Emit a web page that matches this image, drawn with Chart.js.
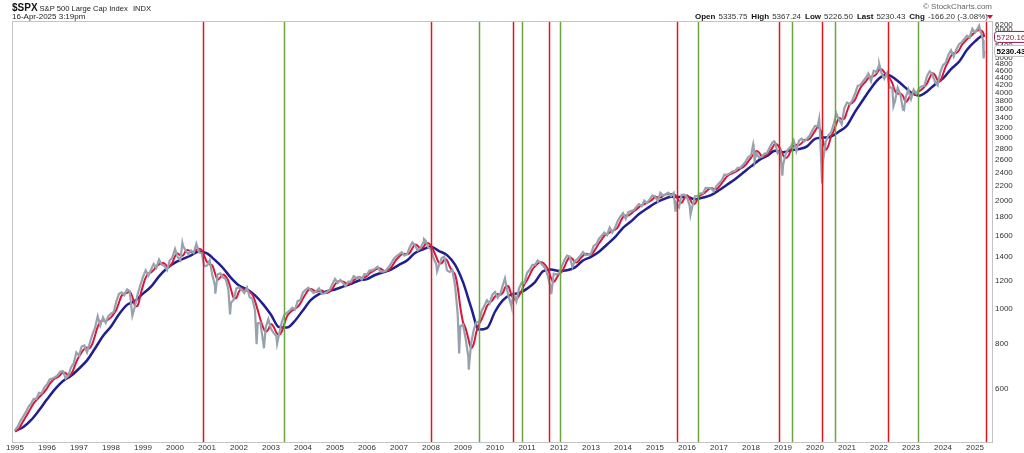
<!DOCTYPE html>
<html>
<head>
<meta charset="utf-8">
<script src="https://cdn.jsdelivr.net/npm/chart.js@4/dist/chart.umd.min.js"></script>
<style>
  html, body { margin: 0; padding: 0; background: #fff; }
  #wrap { width: 1024px; height: 453px; position: relative; }
</style>
</head>
<body>
<div id="wrap"><canvas id="chart" width="1024" height="453"></canvas></div>
<script>
// monthly closes, first value = start of Jan 1995, then each month end
const startYear = 1995;
const priceClose = [
  459,
  470, 487, 501, 515, 533, 545, 562, 562, 584, 582, 605, 616,
  636, 640, 645, 654, 669, 671, 640, 652, 687, 705, 757, 741,
  786, 791, 757, 801, 848, 885, 954, 899, 947, 915, 955, 970,
  980, 1049, 1102, 1112, 1091, 1134, 1121, 957, 1017, 1099, 1164, 1229,
  1280, 1238, 1286, 1335, 1302, 1373, 1329, 1320, 1283, 1363, 1389, 1469,
  1394, 1366, 1499, 1452, 1421, 1455, 1431, 1518, 1437, 1429, 1315, 1320,
  1366, 1240, 1160, 1249, 1256, 1224, 1211, 1134, 1041, 1060, 1139, 1148,
  1130, 1107, 1147, 1077, 1067, 990, 912, 916, 815, 886, 936, 880,
  856, 841, 848, 917, 964, 975, 990, 1008, 996, 1051, 1058, 1112,
  1131, 1145, 1126, 1107, 1121, 1141, 1102, 1104, 1115, 1130, 1174, 1212,
  1181, 1204, 1181, 1157, 1191, 1191, 1234, 1220, 1229, 1207, 1249, 1248,
  1280, 1281, 1295, 1311, 1270, 1270, 1277, 1304, 1336, 1378, 1401, 1418,
  1438, 1407, 1421, 1482, 1531, 1503, 1455, 1474, 1527, 1549, 1481, 1468,
  1379, 1331, 1323, 1386, 1400, 1280, 1267, 1283, 1165, 969, 896, 903,
  826, 735, 798, 873, 919, 919, 987, 1021, 1057, 1036, 1096, 1115,
  1074, 1104, 1169, 1187, 1089, 1031, 1102, 1049, 1141, 1183, 1181, 1258,
  1286, 1327, 1326, 1364, 1345, 1321, 1292, 1219, 1131, 1253, 1247, 1258,
  1312, 1366, 1408, 1398, 1310, 1362, 1379, 1407, 1441, 1412, 1416, 1426,
  1498, 1515, 1569, 1598, 1631, 1606, 1686, 1633, 1682, 1757, 1806, 1848,
  1783, 1859, 1872, 1884, 1924, 1960, 1931, 2003, 1972, 2018, 2068, 2059,
  1995, 2105, 2068, 2086, 2107, 2063, 2104, 1972, 1920, 2079, 2080, 2044,
  1940, 1932, 2060, 2065, 2097, 2099, 2174, 2171, 2168, 2126, 2199, 2239,
  2279, 2364, 2363, 2384, 2412, 2423, 2470, 2472, 2519, 2575, 2648, 2674,
  2824, 2714, 2641, 2648, 2705, 2718, 2816, 2902, 2914, 2712, 2760, 2507,
  2704, 2784, 2834, 2946, 2752, 2942, 2980, 2926, 2977, 3038, 3141, 3231,
  3226, 2954, 2585, 2912, 3044, 3100, 3271, 3500, 3363, 3270, 3622, 3756,
  3714, 3811, 3973, 4181, 4204, 4298, 4395, 4523, 4308, 4605, 4567, 4766,
  4516, 4374, 4530, 4132, 4132, 3785, 4130, 3955, 3586, 3872, 4080, 3840,
  4077, 3970, 4109, 4169, 4180, 4450, 4589, 4508, 4288, 4194, 4568, 4770,
  4846, 5096, 5254, 5036, 5278, 5460, 5522, 5648, 5762, 5705, 6032, 5882,
  6041, 5955, 5612
];

// 50 day average (red), same months as priceClose
const ma50 = [
  456,
  460, 471, 486, 500, 515, 531, 546, 557, 567, 577, 588, 601,
  618, 631, 640, 646, 655, 665, 663, 652, 657, 681, 712, 737,
  757, 774, 781, 778, 799, 843, 891, 920, 928, 925, 935, 947,
  968, 994, 1042, 1089, 1104, 1108, 1117, 1083, 1021, 1020, 1091, 1161,
  1222, 1254, 1263, 1284, 1312, 1330, 1341, 1340, 1314, 1314, 1345, 1401,
  1426, 1410, 1408, 1448, 1458, 1439, 1439, 1460, 1471, 1459, 1403, 1351,
  1330, 1321, 1258, 1206, 1224, 1246, 1231, 1196, 1133, 1073, 1074, 1118,
  1141, 1130, 1124, 1117, 1096, 1051, 994, 936, 890, 863, 877, 907,
  891, 859, 847, 863, 908, 953, 976, 990, 1000, 1013, 1036, 1069,
  1100, 1129, 1136, 1127, 1116, 1121, 1125, 1114, 1107, 1116, 1137, 1170,
  1192, 1196, 1191, 1181, 1173, 1181, 1202, 1217, 1226, 1221, 1224, 1236,
  1257, 1270, 1284, 1295, 1296, 1282, 1272, 1282, 1304, 1337, 1371, 1398,
  1418, 1424, 1419, 1432, 1476, 1510, 1499, 1474, 1482, 1516, 1525, 1498,
  1450, 1394, 1344, 1341, 1371, 1366, 1313, 1275, 1248, 1151, 1010, 920,
  882, 827, 778, 798, 862, 905, 936, 975, 1019, 1041, 1057, 1083,
  1100, 1094, 1111, 1154, 1157, 1104, 1066, 1067, 1088, 1124, 1169, 1201,
  1242, 1288, 1315, 1336, 1348, 1344, 1321, 1282, 1219, 1188, 1215, 1252,
  1268, 1309, 1361, 1393, 1379, 1349, 1351, 1381, 1407, 1423, 1421, 1417,
  1441, 1481, 1523, 1560, 1598, 1615, 1634, 1649, 1661, 1686, 1747, 1802,
  1820, 1821, 1840, 1871, 1891, 1921, 1942, 1958, 1973, 1992, 2017, 2051,
  2046, 2042, 2063, 2084, 2086, 2090, 2086, 2059, 1998, 1976, 2032, 2071,
  2029, 1969, 1966, 2023, 2071, 2089, 2117, 2151, 2171, 2159, 2157, 2188,
  2238, 2289, 2339, 2368, 2385, 2406, 2431, 2457, 2483, 2520, 2577, 2633,
  2703, 2751, 2728, 2664, 2660, 2691, 2739, 2808, 2880, 2860, 2784, 2683,
  2632, 2665, 2773, 2847, 2864, 2858, 2895, 2955, 2955, 2977, 3045, 3132,
  3203, 3160, 2943, 2777, 2847, 3019, 3126, 3277, 3397, 3381, 3386, 3550,
  3706, 3751, 3822, 3976, 4124, 4221, 4294, 4398, 4431, 4447, 4506, 4628,
  4644, 4556, 4456, 4384, 4251, 4045, 3976, 3983, 3916, 3768, 3838, 3958,
  3971, 3980, 4037, 4082, 4154, 4244, 4404, 4527, 4478, 4331, 4315, 4506,
  4728, 4886, 5061, 5152, 5162, 5251, 5421, 5535, 5639, 5713, 5804, 5896,
  5967, 5972, 5895
];

// 200 day average (blue), one value per quarter end
const ma200 = [
  457,
  468, 490, 522, 560,
  598, 630, 651, 682,
  719, 776, 841, 893,
  966, 1026, 1053, 1103,
  1153, 1232, 1298, 1345,
  1379, 1409, 1444, 1428,
  1367, 1300, 1220, 1162,
  1134, 1091, 1031, 963,
  890, 887, 927, 992,
  1059, 1099, 1120, 1133,
  1154, 1174, 1200, 1211,
  1243, 1264, 1287, 1326,
  1365, 1432, 1466, 1489,
  1449, 1412, 1328, 1187,
  1012, 876, 884, 982,
  1058, 1096, 1106, 1139,
  1188, 1273, 1287, 1276,
  1281, 1305, 1364, 1396,
  1443, 1511, 1584, 1682,
  1753, 1838, 1904, 1969,
  2018, 2054, 2048, 2052,
  2019, 2042, 2075, 2140,
  2218, 2296, 2393, 2494,
  2596, 2667, 2756, 2732,
  2765, 2786, 2835, 2977,
  3000, 3021, 3119, 3242,
  3538, 3819, 4116, 4382,
  4488, 4372, 4191, 4004,
  3925, 4033, 4218, 4383,
  4656, 4879, 5267, 5558,
  5762
];

// intra-month extremes the monthly closes miss
const spikeDates = [2000.23, 2001.26, 2001.72, 2002.55, 2002.78, 2003.19, 2007.78, 2008.19, 2008.88, 2009.18,
  2010.31, 2010.51, 2011.76, 2015.64, 2016.11, 2018.07, 2018.11, 2018.72, 2018.98, 2020.13, 2020.22,
  2022.01, 2022.45, 2022.78, 2025.13, 2025.27];
const spikeValues = [1527, 1103, 966, 797, 777, 800, 1565, 1273, 752, 677,
  1217, 1022, 1099, 1867, 1829, 2873, 2581, 2931, 2351, 3386, 2237,
  4797, 3667, 3577, 6144, 4982];

// last print, 16-Apr-2025
const lastDate = 2025.288;
const lastPrice = 5230.43;
const lastMa50 = 5720.16;
const lastMa200 = 5745;

// crossover markers
const redSignals = [2000.87, 2008.0, 2010.56, 2011.68, 2015.69, 2018.87, 2020.22, 2022.27, 2025.34];
const greenSignals = [2003.41, 2009.5, 2010.84, 2012.03, 2016.33, 2019.28, 2020.62, 2023.22];

const yearLabels = [1995, 1996, 1997, 1998, 1999, 2000, 2001, 2002, 2003, 2004, 2005, 2006, 2007, 2008, 2009, 2010,
  2011, 2012, 2013, 2014, 2015, 2016, 2017, 2018, 2019, 2020, 2021, 2022, 2023, 2024, 2025];
const priceTicks = [600, 800, 1000, 1200, 1400, 1600, 1800, 2000, 2200, 2400, 2600, 2800, 3000, 3200, 3400,
  3600, 3800, 4000, 4200, 4400, 4600, 4800, 5000, 5400, 6000, 6200];

const quote = [['Open', '5335.75'], ['High', '5367.24'], ['Low', '5226.50'], ['Last', '5230.43'], ['Chg', '-166.20 (-3.08%)']];

// build datasets
const grayPts = priceClose.map((v, i) => ({ x: startYear + i / 12, y: v }));
spikeDates.forEach((d, i) => grayPts.push({ x: d, y: spikeValues[i] }));
grayPts.push({ x: lastDate, y: lastPrice });
grayPts.sort((a, b) => a.x - b.x);

const redPts = ma50.map((v, i) => ({ x: startYear + i / 12, y: v }));
redPts.push({ x: lastDate, y: lastMa50 });

const bluePts = ma200.map((v, i) => ({ x: startYear + i / 4, y: v }));
bluePts.push({ x: lastDate, y: lastMa200 });

const FONT = 'Liberation Sans, Arial, sans-serif';

const signalLines = {
  id: 'signalLines',
  afterDatasetsDraw(chart) {
    const { ctx, chartArea, scales } = chart;
    ctx.save();
    ctx.lineWidth = 1.5;
    const draw = (list, color) => {
      ctx.strokeStyle = color;
      list.forEach(d => {
        const x = Math.round(scales.x.getPixelForValue(d)) + 0.5;
        ctx.beginPath();
        ctx.moveTo(x, chartArea.top);
        ctx.lineTo(x, chartArea.bottom);
        ctx.stroke();
      });
    };
    draw(redSignals, '#e8141b');
    draw(greenSignals, '#6aa63c');
    ctx.restore();
  }
};

const frameAndText = {
  id: 'frameAndText',
  afterDraw(chart) {
    const { ctx, chartArea, scales } = chart;
    ctx.save();
    // plot frame
    ctx.strokeStyle = '#c4c4c4';
    ctx.lineWidth = 1;
    ctx.strokeRect(chartArea.left + 0.5, chartArea.top + 0.5, chartArea.right - chartArea.left, chartArea.bottom - chartArea.top);

    // title
    ctx.textBaseline = 'alphabetic';
    ctx.fillStyle = '#111';
    ctx.font = 'bold 10px ' + FONT;
    ctx.fillText('$SPX', 12, 11);
    ctx.font = '7.6px ' + FONT;
    ctx.fillStyle = '#222';
    ctx.fillText('S&P 500 Large Cap Index', 39.5, 11);
    ctx.fillText('INDX', 133, 11);
    ctx.font = '8px ' + FONT;
    ctx.fillText('16-Apr-2025 3:19pm', 12, 19);

    ctx.fillStyle = '#666';
    ctx.textAlign = 'right';
    ctx.fillText('\u00A9 StockCharts.com', 992, 9);
    ctx.textAlign = 'left';

    // quote line
    let x = 695;
    quote.forEach(([k, v]) => {
      ctx.font = 'bold 8px ' + FONT;
      ctx.fillStyle = '#111';
      ctx.fillText(k, x, 19);
      x += ctx.measureText(k).width + 3;
      ctx.font = '8px ' + FONT;
      ctx.fillStyle = '#333';
      ctx.fillText(v, x, 19);
      x += ctx.measureText(v).width + 4;
    });
    ctx.fillStyle = '#d0102a';
    ctx.beginPath();
    ctx.moveTo(987, 15);
    ctx.lineTo(993, 15);
    ctx.lineTo(990, 19);
    ctx.closePath();
    ctx.fill();

    // value boxes on the price axis
    const box = (val, y, border, color, bold) => {
      ctx.font = (bold ? 'bold ' : '') + '8px ' + FONT;
      const w = ctx.measureText(val).width + 4;
      ctx.fillStyle = '#fff';
      ctx.strokeStyle = border;
      ctx.lineWidth = 1;
      ctx.beginPath();
      ctx.roundRect(994.5, y - 5.5, w, 11, 3);
      ctx.fill();
      ctx.stroke();
      ctx.fillStyle = color;
      ctx.textBaseline = 'middle';
      ctx.fillText(val, 996.5, y + 0.5);
    };
    box(lastMa50.toFixed(2), scales.y.getPixelForValue(lastMa50), '#8a1f5a', '#8a1f3a', false);
    box(lastPrice.toFixed(2), scales.y.getPixelForValue(lastPrice), '#bbbbbb', '#000', true);
    ctx.restore();
  }
};

new Chart(document.getElementById('chart'), {
  type: 'line',
  data: {
    datasets: [
      {
        label: 'SPX',
        data: grayPts,
        borderColor: '#97a2ad',
        borderWidth: 2.2,
        pointRadius: 0,
        tension: 0
      },
      {
        label: 'MA(50)',
        data: redPts,
        borderColor: '#d8173d',
        borderWidth: 2,
        pointRadius: 0,
        tension: 0.35
      },
      {
        label: 'MA(200)',
        data: bluePts,
        borderColor: '#1f1f8f',
        borderWidth: 2.5,
        pointRadius: 0,
        cubicInterpolationMode: 'monotone'
      }
    ]
  },
  options: {
    responsive: false,
    animation: false,
    layout: { padding: { top: 21, left: 12, right: 0, bottom: 0 } },
    plugins: { legend: { display: false }, tooltip: { enabled: false } },
    scales: {
      x: {
        type: 'linear',
        min: 1994.906,
        max: 2025.531,
        grid: { display: false, drawTicks: false },
        border: { display: false },
        afterBuildTicks: s => { s.ticks = yearLabels.map(v => ({ value: v })); },
        afterFit: s => { s.height = 11; },
        ticks: {
          autoSkip: false,
          maxRotation: 0,
          padding: 1,
          color: '#333',
          font: { family: FONT, size: 8 },
          callback: v => String(v)
        }
      },
      y: {
        type: 'logarithmic',
        position: 'right',
        min: 426,
        max: 6335,
        grid: { display: false, drawTicks: false },
        border: { display: false },
        afterBuildTicks: s => { s.ticks = priceTicks.map(v => ({ value: v })); },
        afterFit: s => { s.width = 32; },
        ticks: {
          autoSkip: false,
          padding: 3,
          color: '#333',
          font: { family: FONT, size: 8 },
          callback: v => String(v)
        }
      }
    }
  },
  plugins: [signalLines, frameAndText]
});
</script>
</body>
</html>
